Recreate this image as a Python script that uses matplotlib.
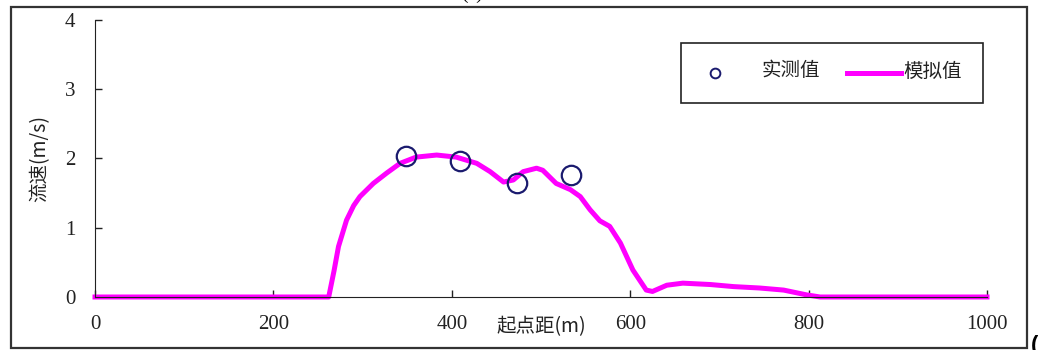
import matplotlib

matplotlib.use("Agg")
import matplotlib.pyplot as plt
from matplotlib.lines import Line2D
from matplotlib.patches import Rectangle

plt.rcParams["font.family"] = ["Liberation Serif", "Noto Sans CJK SC"]

W, H = 1038, 350

# simulated velocity profile (模拟值)
sim_x = [0, 100, 200, 250, 262, 268, 273, 282, 290, 297, 312, 327, 342, 360,
         383, 405, 428, 443, 458, 469, 480, 495, 502, 517, 533, 544, 555, 566,
         577, 589, 603, 618, 625, 641, 659, 690, 716, 745, 772, 798, 813, 850,
         900, 1000]
sim_v = [0, 0, 0, 0, 0, 0.38, 0.73, 1.11, 1.32, 1.45, 1.64, 1.79, 1.93, 2.02,
         2.05, 2.02, 1.93, 1.81, 1.66, 1.69, 1.81, 1.86, 1.83, 1.64, 1.55, 1.45,
         1.26, 1.10, 1.02, 0.78, 0.39, 0.10, 0.08, 0.17, 0.20, 0.18, 0.15, 0.13,
         0.10, 0.03, 0, 0, 0, 0]

# measured points (实测值)
obs_x = [349, 409, 473, 534]
obs_v = [2.04, 1.97, 1.64, 1.76]

x_ticks = [0, 200, 400, 600, 800, 1000]
y_ticks = [0, 1, 2, 3, 4]
legend_labels = ["实测值", "模拟值"]

cjk = ["Noto Sans CJK SC", "DejaVu Sans"]
sim_color = "#FF00FF"
obs_color = "#1a1a6e"
ink = "#222222"


def fx(px):
    return px / W


def fy(py):
    return 1 - py / H


fig = plt.figure(figsize=(W / 100, H / 100), dpi=100)
ax = fig.add_axes([fx(95), fy(297), (987 - 95) / W, (297 - 20) / H])

ax.plot(sim_x, sim_v, color=sim_color, lw=3.6, solid_joinstyle="round",
        zorder=2, clip_on=False)
ax.plot(obs_x, obs_v, ls="none", marker="o", ms=14, mfc="none", mec=obs_color,
        mew=1.6, zorder=3)

ax.set_xlim(0, 1000)
ax.set_ylim(0, 4)
ax.set_xticks(x_ticks)
ax.set_yticks(y_ticks)
ax.tick_params(direction="in", length=5, width=1, labelsize=15, colors=ink)
ax.tick_params(axis="x", pad=13)
ax.tick_params(axis="y", pad=14)
for side in ("top", "right"):
    ax.spines[side].set_visible(False)
for side in ("left", "bottom"):
    ax.spines[side].set_color(ink)

ax.set_xlabel("起点距(m)", fontsize=14, family=cjk, color=ink)
ax.xaxis.set_label_coords(0.5, -0.068)
ax.set_ylabel("流速(m/s)", fontsize=14, family=cjk, color=ink)
ax.yaxis.set_label_coords(-0.050, 0.5)

# legend box drawn by hand to match the original spacing
fig.patches.append(Rectangle((fx(681), fy(103)), (983 - 681) / W, (103 - 43) / H,
                             transform=fig.transFigure, fill=False,
                             edgecolor=ink, lw=1.2))
fig.lines.append(Line2D([fx(715)], [fy(73)], transform=fig.transFigure,
                        ls="none", marker="o", ms=7, mfc="none", mec=obs_color,
                        mew=1.4))
fig.text(fx(762), fy(71), legend_labels[0], family=cjk, fontsize=14, color=ink,
         ha="left", va="center")
fig.lines.append(Line2D([fx(847), fx(901)], [fy(73), fy(73)],
                        transform=fig.transFigure, color=sim_color, lw=3.6))
fig.text(fx(903), fy(71), legend_labels[1], family=cjk, fontsize=14, color=ink,
         ha="left", va="center")

# outer frame around the chart
fig.patches.append(Rectangle((fx(11), fy(348)), (1027 - 11) / W, (348 - 7) / H,
                             transform=fig.transFigure, fill=False,
                             edgecolor="#333333", lw=1.6))
fig.text(fx(472), fy(3), "(a)", fontsize=14, ha="center", va="bottom")
fig.text(fx(1031), fy(345), "(", fontsize=16, weight="bold",
         family="Liberation Sans", ha="left", va="center")

fig.savefig("out.png", dpi=100)
